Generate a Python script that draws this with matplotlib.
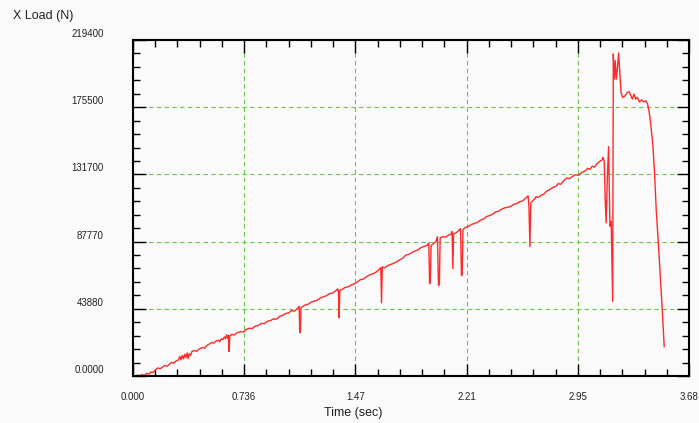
import matplotlib
matplotlib.use("Agg")
import matplotlib.pyplot as plt
from matplotlib.ticker import AutoMinorLocator
from matplotlib.transforms import ScaledTranslation

# Load vs time
time_sec = [
    0.000, 0.015, 0.030, 0.045, 0.060, 0.075, 0.090, 0.105, 0.120, 0.135,
    0.150, 0.165, 0.180, 0.195, 0.210, 0.225, 0.240, 0.255, 0.270, 0.285,
    0.300, 0.310, 0.318, 0.326, 0.334, 0.342, 0.350, 0.358, 0.365, 0.372,
    0.380, 0.390, 0.405, 0.420, 0.440, 0.460, 0.475, 0.490, 0.505, 0.520,
    0.535, 0.550, 0.565, 0.575, 0.585, 0.595, 0.605, 0.612, 0.620, 0.627,
    0.632, 0.636, 0.641, 0.655, 0.670, 0.690, 0.710, 0.730, 0.750, 0.770,
    0.790, 0.810, 0.830, 0.850, 0.870, 0.890, 0.910, 0.930, 0.950, 0.970,
    0.990, 1.010, 1.030, 1.050, 1.070, 1.090, 1.100, 1.104, 1.108, 1.112,
    1.120, 1.140, 1.160, 1.180, 1.200, 1.220, 1.240, 1.260, 1.280, 1.300,
    1.320, 1.340, 1.355, 1.360, 1.364, 1.369, 1.385, 1.405, 1.425, 1.445,
    1.465, 1.485, 1.505, 1.525, 1.545, 1.565, 1.585, 1.605, 1.625, 1.640,
    1.645, 1.650, 1.665, 1.685, 1.705, 1.725, 1.745, 1.765, 1.785, 1.805,
    1.825, 1.845, 1.865, 1.885, 1.905, 1.925, 1.945, 1.958, 1.963, 1.968,
    1.973, 1.990, 2.005, 2.015, 2.022, 2.028, 2.033, 2.050, 2.070, 2.090,
    2.105, 2.112, 2.117, 2.122, 2.140, 2.158, 2.168, 2.174, 2.179, 2.184,
    2.200, 2.220, 2.240, 2.260, 2.280, 2.300, 2.320, 2.340, 2.360, 2.380,
    2.400, 2.420, 2.440, 2.460, 2.480, 2.500, 2.520, 2.540, 2.560, 2.580,
    2.600, 2.615, 2.621, 2.627, 2.633, 2.645, 2.660, 2.668, 2.680, 2.700,
    2.720, 2.740, 2.760, 2.780, 2.800, 2.815, 2.830, 2.850, 2.870, 2.890,
    2.910, 2.930, 2.950, 2.970, 2.990, 3.010, 3.025, 3.040, 3.055, 3.070,
    3.090, 3.105, 3.110, 3.119, 3.126, 3.132, 3.139, 3.148, 3.152, 3.157,
    3.165, 3.170, 3.175, 3.179, 3.186, 3.192, 3.199, 3.208, 3.214, 3.221,
    3.230, 3.241, 3.256, 3.272, 3.284, 3.294, 3.305, 3.316, 3.327, 3.338,
    3.351, 3.367, 3.382, 3.395, 3.406, 3.417, 3.428, 3.441, 3.452, 3.463,
    3.477, 3.490, 3.503, 3.516,
]
load_n = [
    300, 0, 600, 200, 900, 500, 1700, 1200, 2700, 2300,
    4200, 5300, 4700, 5800, 6900, 6400, 7600, 8900, 8400, 9800,
    10400, 12800, 10600, 13400, 11200, 14200, 12000, 15000, 11300, 14600,
    13400, 16000, 16600, 16100, 17800, 18600, 18200, 20100, 20800, 21900,
    21500, 22900, 23400, 22500, 24300, 23700, 25600, 24400, 26900, 24600,
    26500, 16000, 26200, 27200, 26800, 28200, 29000, 28700, 30400, 31200,
    31000, 32600, 33000, 34400, 34100, 35800, 36200, 37300, 37100, 38900,
    39600, 40800, 41200, 42700, 42400, 44300, 45600, 28200, 30500, 44800,
    45200, 46400, 46900, 48200, 48900, 49500, 51000, 51700, 52400, 53800,
    54100, 55500, 56900, 55400, 38000, 56000, 56600, 57900, 58300, 59500,
    60200, 61400, 62900, 63300, 64800, 66000, 66600, 67600, 69100, 70800,
    47800, 71200, 70600, 72100, 72800, 73600, 74500, 75900, 76800, 78900,
    79400, 80500, 81600, 82200, 83800, 84600, 85200, 86800, 60300, 61000,
    85200, 86600, 87800, 91000, 59000, 60500, 90200, 91000, 90700, 92100,
    92600, 94300, 70100, 92800, 93600, 95200, 96200, 65500, 66500, 95600,
    97000, 97700, 98900, 99700, 100300, 101800, 102500, 104100, 104800, 105600,
    107200, 107600, 108900, 109800, 110200, 110700, 112100, 112600, 113800, 114400,
    116200, 117600, 110000, 84500, 113000, 114400, 115800, 117200, 116600, 117800,
    118900, 120900, 121800, 123200, 123900, 125700, 125100, 127400, 129300, 128900,
    130400, 131400, 131100, 132900, 133800, 135600, 135000, 137000, 136400, 138500,
    140200, 141000, 142800, 140400, 113100, 100000, 128400, 149800, 124000, 97800,
    101100, 74000, 48700, 210300, 193900, 205900, 193900, 202600, 210900, 200400,
    185200, 181900, 182900, 185200, 185600, 183400, 180800, 184100, 180800, 181900,
    179000, 180300, 179000, 179700, 177500, 172100, 163300, 150200, 132800, 108700,
    86900, 65000, 43200, 19200,
]

x_ticks = [0.0, 0.736, 1.472, 2.208, 2.944, 3.68]
x_labels = ["0.000", "0.736", "1.47", "2.21", "2.95", "3.68"]
y_ticks = [0, 43880, 87760, 131640, 175520, 219400]
y_labels = ["0.0000", "43880", "87770", "131700", "175500", "219400"]

plt.rcParams['font.family'] = ['Liberation Sans', 'DejaVu Sans']
bg = '#fafafa'

fig = plt.figure(figsize=(6.99, 4.23), dpi=100, facecolor=bg)
ax = fig.add_axes([133 / 699, 47 / 423, 556 / 699, 336 / 423], facecolor=bg)

ax.plot(time_sec, load_n, color='#ff2a2a', linewidth=1.0)

ax.set_xlim(0, 3.68)
ax.set_ylim(0, 219400)
ax.set_xticks(x_ticks)
ax.set_xticklabels(x_labels, fontsize=7, color='#222222')
ax.set_yticks(y_ticks)
ax.set_yticklabels(y_labels, fontsize=7, color='#222222')
ax.xaxis.set_minor_locator(AutoMinorLocator(5))
ax.yaxis.set_minor_locator(AutoMinorLocator(5))

ax.tick_params(which='both', direction='in', top=True, right=True, color='black', width=1)
ax.tick_params(which='major', length=9)
ax.tick_params(which='minor', length=5)
ax.tick_params(axis='x', which='major', pad=11.5)
ax.tick_params(axis='y', which='major', pad=21)

# y labels sit a little above their ticks
shift = ScaledTranslation(0, 7 / 100, fig.dpi_scale_trans)
for lab in ax.get_yticklabels():
    lab.set_transform(lab.get_transform() + shift)

ax.grid(True, which='major', color='#6cc44c', linestyle=(0, (4, 3)), linewidth=0.8)
ax.set_axisbelow(True)

for sp in ax.spines.values():
    sp.set_linewidth(1.5)
    sp.set_color('black')

fig.text(13 / 699, 1 - 16 / 423, "X Load (N)", fontsize=9, va='center', ha='left', color='#222222')
fig.text(353 / 699, 1 - 413 / 423, "Time (sec)", fontsize=9, va='center', ha='center', color='#222222')

plt.savefig("out.png", dpi=100, facecolor=bg)
